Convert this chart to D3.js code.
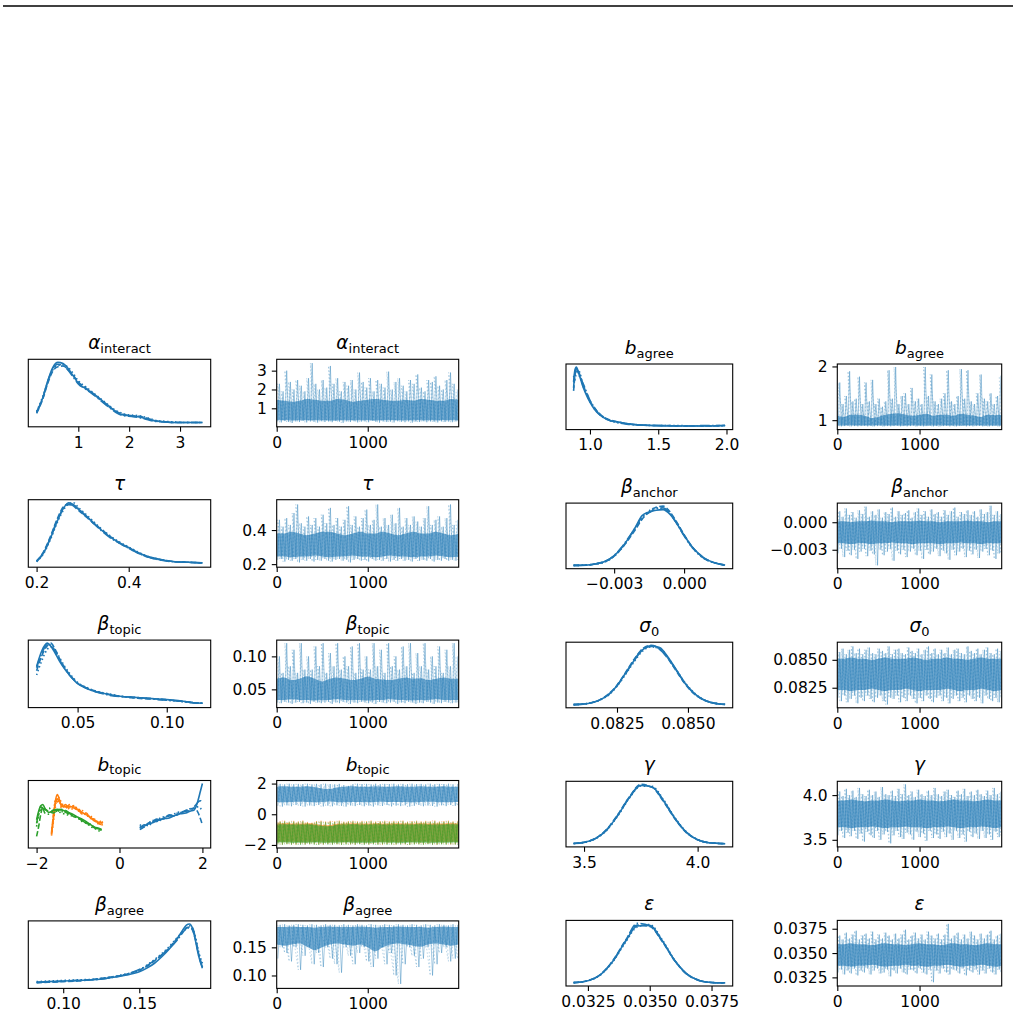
<!DOCTYPE html>
<html><head><meta charset="utf-8">
<script src="https://cdn.jsdelivr.net/npm/d3@7"></script>
<style>body{margin:0;background:#fff} svg{display:block} text{font-family:"DejaVu Sans",sans-serif}</style>
</head><body><svg id="chart" width="1020" height="1019"></svg>
<script>
// ---------------- DATA ----------------
const C0 = "#1f77b4", C1 = "#ff7f0e", C2 = "#2ca02c";

// alpha_interact
const alphaX = [0.18,0.3,0.4,0.5,0.6,0.7,0.8,0.9,1.0,1.15,1.3,1.45,1.6,1.75,1.9,2.05,2.2,2.35,2.5,2.7,2.9,3.1,3.3,3.44];
const alphaK = [
 [0.19,0.42,0.70,0.92,1.00,0.98,0.90,0.78,0.66,0.57,0.49,0.39,0.29,0.19,0.14,0.13,0.11,0.08,0.05,0.03,0.02,0.02,0.02,0.02],
 [0.17,0.40,0.66,0.86,0.93,0.94,0.88,0.79,0.68,0.58,0.48,0.38,0.28,0.20,0.15,0.13,0.12,0.09,0.05,0.03,0.02,0.02,0.02,0.02],
 [0.20,0.44,0.68,0.88,0.95,0.96,0.92,0.82,0.70,0.60,0.50,0.40,0.30,0.21,0.16,0.14,0.13,0.10,0.06,0.04,0.03,0.02,0.02,0.02],
 [0.18,0.41,0.69,0.90,0.97,0.95,0.87,0.76,0.65,0.56,0.47,0.37,0.27,0.18,0.13,0.12,0.10,0.07,0.04,0.03,0.02,0.02,0.02,0.02]];
const alphaBandLo = [0.36,0.36,0.35,0.36,0.37,0.36,0.36,0.35,0.35,0.36,0.37,0.36,0.36,0.35,0.36,0.36,0.37,0.36,0.35,0.36,0.36,0.35,0.36,0.37,0.36];
const alphaBandHi = [1.45,1.4,1.35,1.4,1.5,1.45,1.4,1.4,1.5,1.45,1.35,1.4,1.45,1.5,1.45,1.4,1.4,1.45,1.4,1.5,1.45,1.4,1.4,1.5,1.45];
const alphaHi = [2.3,1.9,3.0,2.4,2.0,2.5,2.2,1.9,2.6,3.4,2.3,2.0,2.5,2.1,3.25,2.3,2.6,1.9,2.4,2.2,2.5,2.0,2.9,2.4,2.1,2.6,1.9,2.5,2.3,2.1,2.95,2.0,2.4,2.6,2.2,1.9,2.5,2.3,2.8,2.1,1.9,2.5,2.4,2.7,2.2,2.0,2.5,2.9,2.3,2.0];
const alphaLo = [0.3,0.25,0.32,0.28,0.22,0.3,0.27,0.33,0.25,0.3,0.28,0.24,0.31,0.27,0.3,0.26,0.32,0.29,0.23,0.3,0.27,0.31,0.25,0.29,0.3,0.26,0.33,0.28,0.24,0.3,0.27,0.29,0.25,0.31,0.28,0.26,0.3,0.24,0.29,0.27,0.31,0.26,0.3,0.28,0.25,0.3,0.27,0.29,0.26,0.3];

// tau
const tauX = [0.20,0.215,0.23,0.245,0.26,0.27,0.28,0.29,0.30,0.32,0.34,0.36,0.38,0.40,0.42,0.44,0.46,0.48,0.50,0.53,0.56];
const tauK = [
 [0.04,0.18,0.42,0.70,0.93,1.00,0.97,0.90,0.84,0.70,0.56,0.44,0.35,0.27,0.19,0.13,0.09,0.06,0.04,0.03,0.02],
 [0.05,0.20,0.45,0.74,0.95,0.98,0.95,0.88,0.82,0.69,0.57,0.45,0.34,0.26,0.18,0.12,0.08,0.06,0.04,0.03,0.02],
 [0.04,0.17,0.40,0.68,0.90,0.99,1.00,0.93,0.86,0.72,0.58,0.46,0.36,0.28,0.20,0.13,0.09,0.06,0.04,0.03,0.02],
 [0.05,0.19,0.43,0.72,0.92,0.97,0.96,0.91,0.83,0.69,0.55,0.43,0.34,0.26,0.18,0.12,0.08,0.05,0.04,0.03,0.02]];
const tauBandLo = [0.245,0.245,0.24,0.245,0.245,0.25,0.245,0.24,0.245,0.245,0.25,0.245,0.245,0.24,0.245,0.25,0.245,0.245,0.24,0.245,0.245,0.25,0.245,0.24,0.245];
const tauBandHi = [0.38,0.38,0.39,0.38,0.37,0.38,0.39,0.39,0.38,0.37,0.38,0.39,0.38,0.38,0.39,0.38,0.37,0.38,0.39,0.38,0.38,0.39,0.38,0.37,0.38];
const tauHi = [0.46,0.42,0.47,0.43,0.50,0.55,0.44,0.42,0.48,0.43,0.47,0.42,0.49,0.44,0.53,0.43,0.47,0.42,0.46,0.54,0.43,0.48,0.42,0.47,0.52,0.43,0.46,0.55,0.42,0.47,0.43,0.49,0.44,0.53,0.42,0.47,0.43,0.48,0.45,0.42,0.47,0.54,0.43,0.46,0.48,0.42,0.47,0.55,0.43,0.46];
const tauLo = [0.225,0.23,0.215,0.225,0.22,0.23,0.21,0.225,0.22,0.23,0.215,0.225,0.22,0.23,0.22,0.215,0.225,0.23,0.22,0.225,0.21,0.225,0.23,0.22,0.225,0.215,0.23,0.22,0.225,0.22,0.23,0.215,0.225,0.22,0.23,0.22,0.225,0.215,0.23,0.22,0.225,0.22,0.23,0.215,0.225,0.22,0.23,0.22,0.225,0.22];

// beta_topic
const btX = [0.027,0.030,0.033,0.035,0.037,0.040,0.043,0.046,0.050,0.055,0.060,0.065,0.070,0.075,0.080,0.085,0.090,0.095,0.100,0.105,0.110,0.115,0.120];
const btK = [
 [0.62,0.88,1.00,0.95,0.86,0.70,0.57,0.46,0.34,0.26,0.21,0.18,0.15,0.13,0.12,0.11,0.10,0.09,0.08,0.07,0.05,0.03,0.02],
 [0.55,0.80,0.96,1.00,0.92,0.74,0.59,0.47,0.35,0.27,0.22,0.18,0.15,0.13,0.11,0.10,0.09,0.09,0.08,0.06,0.05,0.03,0.02],
 [0.48,0.72,0.90,0.94,0.90,0.76,0.61,0.49,0.36,0.28,0.22,0.19,0.16,0.13,0.12,0.11,0.10,0.09,0.07,0.06,0.04,0.03,0.02],
 [0.60,0.84,0.98,0.97,0.88,0.72,0.58,0.46,0.35,0.27,0.21,0.17,0.14,0.13,0.12,0.11,0.10,0.08,0.07,0.06,0.05,0.03,0.02]];
const btBandLo = [0.034,0.034,0.035,0.034,0.034,0.033,0.034,0.034,0.035,0.034,0.034,0.034,0.033,0.034,0.034,0.035,0.034,0.034,0.033,0.034,0.034,0.035,0.034,0.034,0.034];
const btBandHi = [0.066,0.068,0.064,0.066,0.07,0.066,0.062,0.066,0.068,0.066,0.064,0.066,0.069,0.066,0.065,0.064,0.066,0.068,0.066,0.067,0.064,0.066,0.068,0.066,0.066];
const btHi = [0.10,0.075,0.12,0.085,0.11,0.075,0.12,0.08,0.10,0.08,0.115,0.085,0.12,0.075,0.105,0.085,0.12,0.08,0.10,0.085,0.115,0.075,0.12,0.08,0.10,0.08,0.12,0.085,0.11,0.075,0.12,0.085,0.10,0.08,0.115,0.085,0.12,0.075,0.105,0.085,0.12,0.08,0.10,0.085,0.115,0.075,0.11,0.085,0.12,0.10];
const btLo = [0.03,0.029,0.031,0.03,0.028,0.03,0.031,0.029,0.03,0.028,0.031,0.03,0.029,0.03,0.031,0.028,0.03,0.029,0.031,0.03,0.028,0.03,0.029,0.031,0.03,0.029,0.03,0.028,0.031,0.03,0.029,0.03,0.031,0.028,0.03,0.029,0.031,0.03,0.028,0.03,0.029,0.031,0.03,0.028,0.03,0.029,0.031,0.03,0.029,0.03];

// b_topic (three components)
const bt0X = [0.49,0.6,0.7,0.8,0.9,1.0,1.1,1.2,1.3,1.4,1.5,1.6,1.7,1.8,1.85,1.9,1.95,2.0];
const bt0K = [
 [0.29,0.31,0.34,0.36,0.39,0.42,0.43,0.44,0.47,0.50,0.51,0.52,0.55,0.57,0.63,0.74,0.87,1.00],
 [0.25,0.30,0.36,0.38,0.40,0.41,0.45,0.47,0.48,0.49,0.53,0.56,0.58,0.60,0.58,0.52,0.43,0.33],
 [0.33,0.29,0.35,0.40,0.38,0.45,0.46,0.48,0.50,0.53,0.54,0.56,0.59,0.60,0.62,0.62,0.60,0.55],
 [0.27,0.33,0.31,0.38,0.42,0.40,0.44,0.49,0.47,0.52,0.53,0.55,0.56,0.62,0.66,0.70,0.72,0.70]];
const bt1X = [-1.64,-1.6,-1.55,-1.5,-1.45,-1.4,-1.3,-1.2,-1.1,-1.0,-0.9,-0.8,-0.7,-0.6,-0.5,-0.4];
const bt1K = [
 [0.17,0.40,0.70,0.82,0.74,0.63,0.62,0.63,0.60,0.57,0.53,0.49,0.45,0.39,0.37,0.36],
 [0.20,0.45,0.66,0.75,0.70,0.66,0.60,0.66,0.62,0.60,0.52,0.52,0.43,0.42,0.35,0.33],
 [0.15,0.35,0.60,0.78,0.77,0.68,0.64,0.61,0.64,0.55,0.56,0.47,0.47,0.38,0.40,0.30],
 [0.18,0.42,0.72,0.70,0.72,0.60,0.66,0.58,0.59,0.58,0.50,0.50,0.44,0.41,0.34,0.38]];
const bt2X = [-2.0,-1.95,-1.9,-1.85,-1.8,-1.7,-1.6,-1.5,-1.4,-1.3,-1.2,-1.1,-1.0,-0.9,-0.8,-0.7,-0.6,-0.5,-0.43];
const bt2K = [
 [0.41,0.55,0.64,0.66,0.60,0.53,0.56,0.58,0.57,0.55,0.52,0.49,0.45,0.42,0.38,0.33,0.29,0.27,0.25],
 [0.14,0.30,0.50,0.62,0.58,0.55,0.52,0.56,0.58,0.53,0.50,0.46,0.44,0.40,0.36,0.32,0.28,0.26,0.24],
 [0.30,0.48,0.57,0.59,0.55,0.60,0.54,0.55,0.52,0.50,0.48,0.47,0.44,0.38,0.36,0.30,0.27,0.23,0.22],
 [0.35,0.52,0.62,0.60,0.52,0.50,0.57,0.56,0.54,0.56,0.51,0.47,0.43,0.40,0.35,0.34,0.28,0.26,0.24]];
const bt0BandLo = [0.8,0.78,0.8,0.82,0.8,0.78,0.8,0.83,0.8,0.78,0.8,0.8,0.78,0.8,0.82,0.8,0.8,0.8,0.78,0.8,0.82,0.8,0.78,0.8,0.8];
const bt0BandHi = [1.8,1.82,1.8,1.8,1.82,1.78,1.68,1.64,1.76,1.8,1.82,1.8,1.8,1.82,1.8,1.8,1.82,1.8,1.8,1.82,1.8,1.8,1.82,1.8,1.8];
const bt0Hi = [1.98,1.95,1.99,1.96,1.98,1.97,1.99,1.95,1.98,1.96,1.99,1.97,1.95,1.98,1.9,1.85,1.96,1.99,1.97,1.98,1.95,1.99,1.96,1.98,1.97,1.99,1.95,1.98,1.96,1.99,1.97,1.98,1.95,1.99,1.96,1.98,1.97,1.99,1.95,1.98];
const bt0Lo = [0.55,0.5,0.58,0.52,0.6,0.54,0.5,0.57,0.53,0.6,0.51,0.56,0.52,0.58,0.55,0.5,0.57,0.53,0.6,0.52,0.56,0.5,0.58,0.54,0.6,0.51,0.56,0.53,0.58,0.5,0.55,0.6,0.52,0.57,0.54,0.5,0.58,0.53,0.6,0.55];
const bt1BandLo = [-1.8,-1.79,-1.8,-1.81,-1.8,-1.79,-1.8,-1.81,-1.8,-1.79,-1.8,-1.8,-1.81,-1.8,-1.79,-1.8,-1.81,-1.8,-1.79,-1.8,-1.8,-1.81,-1.8,-1.79,-1.8];
const bt1BandHi = [-0.6,-0.59,-0.6,-0.61,-0.59,-0.62,-0.7,-0.72,-0.62,-0.6,-0.59,-0.6,-0.61,-0.59,-0.6,-0.6,-0.59,-0.61,-0.6,-0.59,-0.6,-0.61,-0.6,-0.59,-0.6];
const bt1Hi = [-0.45,-0.42,-0.48,-0.43,-0.46,-0.41,-0.5,-0.55,-0.44,-0.42,-0.47,-0.43,-0.45,-0.41,-0.48,-0.44,-0.42,-0.46,-0.43,-0.45,-0.41,-0.47,-0.44,-0.42,-0.46,-0.43,-0.45,-0.41,-0.48,-0.44,-0.42,-0.46,-0.43,-0.45,-0.41,-0.47,-0.44,-0.42,-0.46,-0.43];
const bt1Lo = [-1.95,-1.97,-1.93,-1.96,-1.98,-1.94,-1.97,-1.95,-1.93,-1.96,-1.98,-1.94,-1.96,-1.95,-1.97,-1.93,-1.96,-1.98,-1.94,-1.95,-1.97,-1.93,-1.96,-1.98,-1.94,-1.95,-1.97,-1.93,-1.96,-1.98,-1.94,-1.95,-1.97,-1.93,-1.96,-1.98,-1.94,-1.95,-1.97,-1.96];
const bt2BandLo = [-1.85,-1.84,-1.85,-1.86,-1.85,-1.84,-1.85,-1.86,-1.85,-1.84,-1.85,-1.85,-1.86,-1.85,-1.84,-1.85,-1.86,-1.85,-1.84,-1.85,-1.85,-1.86,-1.85,-1.84,-1.85];
const bt2BandHi = [-0.66,-0.65,-0.66,-0.67,-0.65,-0.68,-0.76,-0.78,-0.68,-0.66,-0.65,-0.66,-0.67,-0.65,-0.66,-0.66,-0.65,-0.67,-0.66,-0.65,-0.66,-0.67,-0.66,-0.65,-0.66];
const bt2Hi = [-0.5,-0.48,-0.53,-0.49,-0.52,-0.47,-0.56,-0.6,-0.5,-0.48,-0.52,-0.49,-0.51,-0.47,-0.53,-0.5,-0.48,-0.52,-0.49,-0.51,-0.47,-0.53,-0.5,-0.48,-0.52,-0.49,-0.51,-0.47,-0.53,-0.5,-0.48,-0.52,-0.49,-0.51,-0.47,-0.53,-0.5,-0.48,-0.52,-0.49];
const bt2Lo = [-1.98,-2.0,-1.96,-1.99,-1.97,-2.0,-1.98,-1.96,-1.99,-2.0,-1.97,-1.98,-1.99,-1.96,-2.0,-1.98,-1.97,-1.99,-1.96,-2.0,-1.98,-1.97,-1.99,-1.96,-2.0,-1.98,-1.97,-1.99,-1.96,-2.0,-1.98,-1.97,-1.99,-1.96,-2.0,-1.98,-1.97,-1.99,-1.96,-1.98];

// beta_agree
const baX = [0.0825,0.09,0.10,0.11,0.12,0.13,0.14,0.15,0.155,0.16,0.165,0.17,0.175,0.178,0.181,0.183,0.185,0.187,0.189,0.1915];
const baK = [
 [0.05,0.06,0.07,0.08,0.09,0.12,0.16,0.22,0.28,0.36,0.47,0.60,0.76,0.88,0.98,1.00,0.93,0.72,0.48,0.28],
 [0.04,0.05,0.06,0.07,0.10,0.13,0.17,0.25,0.31,0.40,0.50,0.62,0.77,0.86,0.94,0.95,0.90,0.74,0.52,0.30],
 [0.06,0.07,0.08,0.09,0.10,0.13,0.18,0.24,0.33,0.42,0.52,0.64,0.78,0.86,0.92,0.94,0.92,0.78,0.55,0.36],
 [0.05,0.05,0.07,0.08,0.09,0.12,0.17,0.26,0.32,0.41,0.50,0.61,0.74,0.84,0.93,0.97,0.94,0.76,0.50,0.30]];
const baBandLo = [0.155,0.153,0.155,0.157,0.151,0.145,0.15,0.155,0.157,0.155,0.153,0.155,0.15,0.143,0.15,0.155,0.157,0.155,0.153,0.151,0.155,0.157,0.155,0.153,0.155];
const baBandHi = [0.186,0.186,0.187,0.186,0.186,0.185,0.186,0.187,0.186,0.186,0.186,0.187,0.186,0.185,0.186,0.186,0.187,0.186,0.186,0.186,0.185,0.186,0.187,0.186,0.186];
const baHi = [0.190,0.191,0.189,0.190,0.191,0.190,0.189,0.191,0.190,0.189,0.191,0.190,0.190,0.189,0.191,0.190,0.189,0.191,0.190,0.189,0.191,0.190,0.189,0.191,0.190,0.189,0.191,0.190,0.189,0.191,0.190,0.189,0.191,0.190,0.189,0.191,0.190,0.189,0.191,0.190];
const baLo = [0.13,0.15,0.14,0.125,0.15,0.11,0.135,0.15,0.12,0.14,0.115,0.15,0.13,0.12,0.105,0.15,0.135,0.12,0.14,0.15,0.125,0.115,0.13,0.15,0.12,0.14,0.1,0.085,0.12,0.15,0.135,0.115,0.13,0.15,0.1,0.12,0.14,0.15,0.125,0.13,0.115,0.14,0.15,0.11,0.125,0.13,0.15,0.12,0.09,0.12];

// b_agree
const bagX = [0.88,0.89,0.90,0.92,0.95,0.98,1.0,1.03,1.06,1.1,1.15,1.2,1.27,1.35,1.45,1.55,1.65,1.75,1.85,1.99];
const bagK = [
 [0.75,0.95,1.00,0.88,0.66,0.50,0.41,0.30,0.22,0.15,0.10,0.08,0.05,0.03,0.02,0.01,0.01,0.01,0.01,0.02],
 [0.60,0.85,0.96,0.90,0.70,0.53,0.43,0.32,0.24,0.16,0.11,0.08,0.05,0.03,0.02,0.02,0.01,0.01,0.01,0.02],
 [0.85,0.78,0.92,0.93,0.68,0.52,0.42,0.31,0.23,0.16,0.10,0.07,0.05,0.03,0.02,0.02,0.02,0.01,0.01,0.01],
 [0.65,0.90,0.98,0.86,0.72,0.55,0.44,0.33,0.23,0.15,0.10,0.07,0.04,0.03,0.02,0.02,0.01,0.01,0.02,0.02]];
const bagBandLo = [0.9,0.9,0.905,0.9,0.9,0.9,0.905,0.9,0.9,0.9,0.9,0.905,0.9,0.9,0.9,0.905,0.9,0.9,0.9,0.9,0.905,0.9,0.9,0.9,0.9];
const bagBandHi = [1.08,1.06,1.1,1.1,1.08,1.04,1.06,1.1,1.12,1.13,1.1,1.08,1.1,1.12,1.08,1.1,1.1,1.08,1.12,1.1,1.08,1.06,1.1,1.09,1.1];
const bagHi = [1.7,1.3,1.45,1.91,1.35,1.4,1.81,1.3,1.7,1.35,1.75,1.3,1.4,1.25,1.35,1.93,1.4,1.99,1.3,1.45,1.5,1.3,1.6,1.35,1.4,1.3,1.99,1.45,1.85,1.35,1.3,1.4,1.5,1.93,1.35,1.3,1.45,1.95,1.4,1.93,1.35,1.3,1.5,1.85,1.4,1.35,1.5,1.3,1.45,1.83];
const bagLo = [0.89,0.885,0.89,0.895,0.885,0.89,0.885,0.89,0.895,0.885,0.89,0.885,0.89,0.895,0.885,0.89,0.885,0.89,0.895,0.885,0.89,0.885,0.89,0.895,0.885,0.89,0.885,0.89,0.895,0.885,0.89,0.885,0.89,0.895,0.885,0.89,0.885,0.89,0.895,0.885,0.89,0.885,0.89,0.895,0.885,0.89,0.885,0.89,0.895,0.885];

// beta_anchor
const banX = [-0.00474,-0.0042,-0.0038,-0.0034,-0.0030,-0.0027,-0.0024,-0.0021,-0.0018,-0.0015,-0.0012,-0.0009,-0.0006,-0.0003,0.0,0.0003,0.0006,0.0009,0.0013,0.00176];
const banK = [
 [0.005,0.01,0.03,0.07,0.17,0.29,0.45,0.64,0.84,0.90,0.93,0.94,0.86,0.70,0.51,0.34,0.21,0.12,0.05,0.01],
 [0.005,0.01,0.03,0.07,0.16,0.28,0.43,0.60,0.78,0.90,0.98,1.00,0.90,0.72,0.52,0.34,0.21,0.12,0.05,0.01],
 [0.005,0.01,0.03,0.06,0.16,0.28,0.44,0.62,0.80,0.92,0.97,0.96,0.88,0.71,0.51,0.33,0.20,0.11,0.05,0.01],
 [0.005,0.01,0.03,0.07,0.17,0.30,0.46,0.63,0.82,0.89,0.95,0.97,0.87,0.70,0.50,0.33,0.20,0.11,0.05,0.01]];
const banBandLo = [-0.0023,-0.0023,-0.0024,-0.0023,-0.0023,-0.0024,-0.0023,-0.0023,-0.0022,-0.0023,-0.0023,-0.0024,-0.0023,-0.0023,-0.0023,-0.0024,-0.0023,-0.0023,-0.0022,-0.0023,-0.0023,-0.0024,-0.0023,-0.0023,-0.0023];
const banBandHi = [0.0001,0.0001,0.0000,0.0001,0.0001,0.0002,0.0001,0.0001,0.0000,0.0001,0.0001,0.0001,0.0002,0.0001,0.0001,0.0000,0.0001,0.0001,0.0001,0.0002,0.0001,0.0001,0.0000,0.0001,0.0001];
const banHi = [0.0012,0.0006,0.0015,0.0008,0.0011,0.0005,0.0013,0.0009,0.0017,0.0006,0.0012,0.0008,0.0014,0.0005,0.0011,0.0009,0.0016,0.0006,0.0012,0.0008,0.0010,0.0013,0.0005,0.0011,0.0015,0.0008,0.0012,0.0006,0.0014,0.0009,0.0011,0.0006,0.0013,0.0008,0.0012,0.0016,0.0006,0.0011,0.0009,0.0013,0.0008,0.0012,0.0006,0.0014,0.0009,0.0011,0.0018,0.0008,0.0012,0.0009];
const banLo = [-0.0034,-0.0029,-0.0038,-0.0031,-0.0036,-0.0030,-0.0040,-0.0032,-0.0029,-0.0037,-0.0031,-0.0035,-0.0047,-0.0030,-0.0036,-0.0032,-0.0029,-0.0042,-0.0031,-0.0035,-0.0030,-0.0038,-0.0032,-0.0029,-0.0036,-0.0031,-0.0040,-0.0030,-0.0035,-0.0032,-0.0029,-0.0037,-0.0031,-0.0034,-0.0041,-0.0030,-0.0036,-0.0032,-0.0029,-0.0038,-0.0031,-0.0035,-0.0030,-0.0039,-0.0032,-0.0029,-0.0036,-0.0031,-0.0040,-0.0034];

// sigma_0
const sgX = [0.08097,0.0813,0.0816,0.0819,0.0822,0.0825,0.0828,0.0831,0.0834,0.0837,0.0840,0.0843,0.0846,0.0849,0.0852,0.0855,0.0858,0.0861,0.08631];
const sgK = [
 [0.003,0.012,0.034,0.083,0.17,0.32,0.53,0.74,0.92,0.99,0.96,0.80,0.58,0.36,0.20,0.097,0.041,0.015,0.007],
 [0.003,0.013,0.036,0.086,0.18,0.33,0.54,0.76,0.94,1.00,0.94,0.77,0.56,0.35,0.19,0.095,0.040,0.015,0.007],
 [0.003,0.011,0.032,0.080,0.16,0.31,0.51,0.72,0.90,0.97,0.95,0.79,0.58,0.37,0.21,0.10,0.043,0.016,0.008],
 [0.003,0.012,0.035,0.084,0.17,0.32,0.52,0.75,0.93,0.98,0.93,0.78,0.57,0.36,0.20,0.096,0.041,0.015,0.007]];
const sgBandLo = [0.0823,0.0823,0.0822,0.0823,0.0823,0.0824,0.0823,0.0822,0.0823,0.0823,0.0824,0.0823,0.0822,0.0823,0.0823,0.0823,0.0824,0.0823,0.0822,0.0823,0.0823,0.0824,0.0823,0.0822,0.0823];
const sgBandHi = [0.0851,0.0851,0.0852,0.0851,0.0851,0.0850,0.0851,0.0852,0.0851,0.0851,0.0851,0.0852,0.0851,0.0850,0.0851,0.0851,0.0852,0.0851,0.0851,0.0850,0.0851,0.0852,0.0851,0.0851,0.0851];
const sgHi = [0.0857,0.0860,0.0855,0.0859,0.0862,0.0856,0.0860,0.0855,0.0859,0.0861,0.0856,0.0855,0.0860,0.0858,0.0856,0.0862,0.0855,0.0859,0.0860,0.0856,0.0855,0.0861,0.0858,0.0856,0.0860,0.0855,0.0859,0.0862,0.0856,0.0860,0.0855,0.0859,0.0856,0.0861,0.0855,0.0859,0.0860,0.0856,0.0855,0.0862,0.0858,0.0856,0.0860,0.0855,0.0859,0.0861,0.0856,0.0855,0.0860,0.0858];
const sgLo = [0.0816,0.0813,0.0818,0.0812,0.0815,0.0818,0.0811,0.0816,0.0813,0.0818,0.0815,0.0812,0.0816,0.0818,0.0813,0.0810,0.0816,0.0815,0.0818,0.0812,0.0816,0.0813,0.0818,0.0815,0.0811,0.0816,0.0813,0.0818,0.0815,0.0812,0.0816,0.0818,0.0813,0.0816,0.0811,0.0815,0.0818,0.0813,0.0816,0.0812,0.0818,0.0815,0.0813,0.0816,0.0811,0.0818,0.0815,0.0813,0.0816,0.0812];

// gamma
const gmX = [3.454,3.5,3.55,3.6,3.65,3.7,3.75,3.8,3.85,3.9,3.95,4.0,4.05,4.121];
const gmK = [
 [0.007,0.026,0.089,0.236,0.487,0.78,0.98,0.956,0.726,0.43,0.198,0.071,0.02,0.004],
 [0.007,0.028,0.092,0.245,0.50,0.79,1.00,0.95,0.71,0.42,0.19,0.068,0.02,0.004],
 [0.006,0.024,0.085,0.228,0.475,0.77,0.97,0.965,0.74,0.44,0.205,0.074,0.021,0.004],
 [0.007,0.026,0.090,0.240,0.49,0.785,0.985,0.95,0.72,0.425,0.195,0.07,0.02,0.004]];
const gmBandLo = [3.64,3.64,3.63,3.64,3.64,3.65,3.64,3.63,3.64,3.64,3.65,3.64,3.64,3.63,3.64,3.64,3.65,3.64,3.63,3.64,3.64,3.65,3.64,3.63,3.64];
const gmBandHi = [3.94,3.94,3.95,3.94,3.93,3.94,3.94,3.95,3.94,3.93,3.94,3.94,3.95,3.94,3.94,3.93,3.94,3.95,3.94,3.94,3.93,3.94,3.95,3.94,3.94];
const gmHi = [4.04,3.99,4.07,4.0,4.05,3.98,4.08,4.01,3.99,4.06,4.0,4.04,3.98,4.09,4.01,4.0,4.05,3.99,4.07,4.01,4.12,4.0,4.04,3.98,4.06,4.01,3.99,4.05,4.0,4.08,4.01,3.99,4.04,4.06,4.0,3.98,4.05,4.01,4.07,3.99,4.04,4.0,4.06,4.01,3.99,4.05,4.0,4.08,4.01,4.04];
const gmLo = [3.55,3.6,3.52,3.58,3.54,3.6,3.51,3.57,3.48,3.59,3.55,3.52,3.6,3.5,3.56,3.59,3.46,3.55,3.6,3.53,3.51,3.58,3.56,3.5,3.59,3.53,3.57,3.49,3.6,3.52,3.56,3.51,3.59,3.53,3.57,3.5,3.6,3.52,3.56,3.48,3.59,3.53,3.57,3.51,3.6,3.52,3.56,3.5,3.59,3.53];

// epsilon
const epX = [0.03192,0.0325,0.0330,0.0335,0.0340,0.0345,0.0350,0.0355,0.0360,0.0365,0.0370,0.0375,0.03805];
const epK = [
 [0.006,0.039,0.138,0.36,0.685,0.956,0.967,0.715,0.386,0.152,0.044,0.009,0.002],
 [0.006,0.040,0.142,0.37,0.70,0.97,0.95,0.70,0.38,0.148,0.043,0.009,0.002],
 [0.005,0.037,0.134,0.35,0.67,0.94,0.98,0.73,0.39,0.155,0.045,0.010,0.002],
 [0.006,0.039,0.140,0.365,0.69,1.00,0.96,0.71,0.38,0.150,0.044,0.009,0.002]];
const epBandLo = [0.0337,0.0337,0.0336,0.0337,0.0337,0.0338,0.0337,0.0336,0.0337,0.0337,0.0338,0.0337,0.0337,0.0336,0.0337,0.0337,0.0338,0.0337,0.0336,0.0337,0.0337,0.0338,0.0337,0.0336,0.0337];
const epBandHi = [0.0359,0.0359,0.0360,0.0359,0.0359,0.0358,0.0359,0.0360,0.0359,0.0359,0.0358,0.0359,0.0360,0.0359,0.0359,0.0358,0.0359,0.0360,0.0359,0.0359,0.0358,0.0359,0.0360,0.0359,0.0359];
const epHi = [0.0368,0.0364,0.0371,0.0365,0.0369,0.0373,0.0364,0.0368,0.0370,0.0365,0.0372,0.0364,0.0369,0.0365,0.0371,0.0368,0.0364,0.0370,0.0365,0.0369,0.0374,0.0364,0.0368,0.0371,0.0365,0.0369,0.0364,0.0372,0.0368,0.0365,0.0370,0.0364,0.0369,0.0380,0.0365,0.0368,0.0371,0.0364,0.0369,0.0365,0.0372,0.0368,0.0364,0.0370,0.0365,0.0369,0.0373,0.0364,0.0368,0.0370];
const epLo = [0.0330,0.0333,0.0328,0.0332,0.0329,0.0334,0.0327,0.0332,0.0330,0.0334,0.0328,0.0332,0.0334,0.0329,0.0330,0.0333,0.0326,0.0332,0.0329,0.0334,0.0330,0.0328,0.0333,0.0332,0.0329,0.0334,0.0330,0.0328,0.0333,0.0320,0.0332,0.0329,0.0334,0.0330,0.0328,0.0333,0.0332,0.0329,0.0334,0.0327,0.0332,0.0330,0.0333,0.0328,0.0332,0.0329,0.0334,0.0330,0.0328,0.0333];

// tick labels
const traceXTicks = [0, 1000];
const alphaTicks = [1, 2, 3];
const tauTicks = [0.2, 0.4];
const btTicks = [0.05, 0.10];
const btopicTicks = [-2, 0, 2];
const baTicks = [0.10, 0.15];
const bagKdeTicks = [1.0, 1.5, 2.0];
const bagTraceTicks = [1, 2];
const banTicks = [-0.003, 0.000];
const sgTicks = [0.0825, 0.0850];
const gmTicks = [3.5, 4.0];
const epTicks = [0.0325, 0.0350, 0.0375];

// ---------------- DRAWING ----------------
const svg = d3.select("#chart");
svg.append("rect").attr("width", 1020).attr("height", 1019).attr("fill", "#fff");
svg.append("line").attr("x1", 3).attr("x2", 1013).attr("y1", 6).attr("y2", 6)
  .attr("stroke", "#000").attr("stroke-width", 1.5);

const DASH = [null, "5.5,2.4", "1.5,2.5", "9.6,2.4,1.5,2.4"];
const FS = 15.5;
let clipId = 0;

function frame(g, x0, x1, y0, y1) {
  g.append("rect").attr("x", x0).attr("y", y0).attr("width", x1 - x0).attr("height", y1 - y0)
    .attr("fill", "none").attr("stroke", "#000").attr("stroke-width", 1.1);
}
function clip(x0, x1, y0, y1) {
  const id = "c" + (clipId++);
  svg.append("clipPath").attr("id", id).append("rect")
    .attr("x", x0).attr("y", y0).attr("width", x1 - x0).attr("height", y1 - y0);
  return "url(#" + id + ")";
}
function styleAxis(a) {
  a.select(".domain").remove();
  a.attr("font-family", "DejaVu Sans").attr("font-size", FS);
  a.selectAll("line").attr("stroke", "#000").attr("stroke-width", 1.1);
  a.selectAll("text").attr("fill", "#000");
}
function title(cx, top, main, sub) {
  const t = svg.append("text").attr("x", cx).attr("y", top - 10).attr("text-anchor", "middle")
    .attr("font-size", 18.5).attr("fill", "#000");
  t.append("tspan").attr("font-style", "italic").text(main);
  if (sub) t.append("tspan").attr("font-size", 13).attr("dy", 3.8).text(sub);
}
function pad(ext) { const r = ext[1] - ext[0]; return [ext[0] - 0.05 * r, ext[1] + 0.05 * r]; }

function kdePanel(x0, x1, y0, y1, series, ticks, fmt) {
  const allX = series.flatMap(s => s.xs);
  const M = d3.max(series.flatMap(s => s.ks.flat()));
  const x = d3.scaleLinear().domain(pad(d3.extent(allX))).range([x0, x1]);
  const y = d3.scaleLinear().domain([-0.05 * M, 1.05 * M]).range([y1, y0]);
  const g = svg.append("g").attr("clip-path", clip(x0, x1, y0, y1));
  series.forEach(s => {
    s.ks.forEach((k, c) => {
      const line = d3.line().x((d, i) => x(s.xs[i])).y(d => y(d)).curve(d3.curveMonotoneX);
      g.append("path").attr("d", line(k)).attr("fill", "none").attr("stroke", s.color)
        .attr("stroke-width", 1.6).attr("stroke-dasharray", DASH[c]);
    });
  });
  frame(svg, x0, x1, y0, y1);
  const ax = svg.append("g").attr("transform", `translate(0,${y1})`)
    .call(d3.axisBottom(x).tickValues(ticks).tickFormat(d3.format(fmt)).tickSize(4.9).tickPadding(4.9));
  styleAxis(ax);
  return allX;
}

function tracePanel(x0, x1, y0, y1, ext, series, ticks, fmt) {
  const x = d3.scaleLinear().domain([0, 1999]).range([x0, x1]);
  const y = d3.scaleLinear().domain(pad(ext)).range([y1, y0]);
  const g = svg.append("g").attr("clip-path", clip(x0, x1, y0, y1));
  series.forEach(s => {
    // dense core of the chains
    const n = s.bandLo.length;
    const area = d3.area().x((d, i) => x(i * 1999 / (n - 1))).y0((d, i) => y(s.bandLo[i])).y1(d => y(d))
      .curve(d3.curveMonotoneX);
    g.append("path").attr("d", area(s.bandHi)).attr("fill", s.color).attr("fill-opacity", 0.62);
    // zig-zag of the chain excursions (spike bottoms and tops)
    const m = s.hi.length, step = 1999 / m;
    const pts = [];
    s.hi.forEach((v, i) => {
      pts.push([x(i * step + step * 0.25), y(s.lo[i])]);
      pts.push([x(i * step + step * 0.75), y(v)]);
    });
    g.append("path").attr("d", d3.line()(pts)).attr("fill", "none").attr("stroke", s.color)
      .attr("stroke-opacity", 0.4).attr("stroke-width", 1);
    // second pass with the chain dash style, offset by half a step
    const pts2 = [];
    s.hi.forEach((v, i) => {
      pts2.push([x(i * step + step * 0.75), y(s.lo[(i + 1) % m])]);
      pts2.push([x(i * step + step * 0.25), y(v)]);
    });
    g.append("path").attr("d", d3.line()(pts2)).attr("fill", "none").attr("stroke", s.color)
      .attr("stroke-opacity", 0.3).attr("stroke-width", 1).attr("stroke-dasharray", "1.5,2");
  });
  frame(svg, x0, x1, y0, y1);
  const ax = svg.append("g").attr("transform", `translate(0,${y1})`)
    .call(d3.axisBottom(x).tickValues(traceXTicks).tickFormat(d3.format("d")).tickSize(4.9).tickPadding(4.9));
  styleAxis(ax);
  const ay = svg.append("g").attr("transform", `translate(${x0},0)`)
    .call(d3.axisLeft(y).tickValues(ticks).tickFormat(d3.format(fmt)).tickSize(4.9).tickPadding(4.9));
  styleAxis(ay);
}

const L = { kde: [28.3, 210.7], trace: [276.7, 458.7], top: i => 359.3 + 140.4 * i, h: 67.5 };
const R = { kde: [566, 732.7], trace: [837.3, 1001.7], top: i => 364 + 139.1 * i, h: 65.6 };

const rows = [
  { side: L, row: 0, main: "α", sub: "interact", kdeTicks: alphaTicks, kdeFmt: "d", trTicks: alphaTicks, trFmt: "d",
    series: [{ xs: alphaX, ks: alphaK, color: C0, bandLo: alphaBandLo, bandHi: alphaBandHi, hi: alphaHi, lo: alphaLo }] },
  { side: L, row: 1, main: "τ", sub: null, kdeTicks: tauTicks, kdeFmt: ".1f", trTicks: tauTicks, trFmt: ".1f",
    series: [{ xs: tauX, ks: tauK, color: C0, bandLo: tauBandLo, bandHi: tauBandHi, hi: tauHi, lo: tauLo }] },
  { side: L, row: 2, main: "β", sub: "topic", kdeTicks: btTicks, kdeFmt: ".2f", trTicks: btTicks, trFmt: ".2f",
    series: [{ xs: btX, ks: btK, color: C0, bandLo: btBandLo, bandHi: btBandHi, hi: btHi, lo: btLo }] },
  { side: L, row: 3, main: "b", sub: "topic", kdeTicks: btopicTicks, kdeFmt: "d", trTicks: btopicTicks, trFmt: "d",
    series: [
      { xs: bt0X, ks: bt0K, color: C0, bandLo: bt0BandLo, bandHi: bt0BandHi, hi: bt0Hi, lo: bt0Lo },
      { xs: bt1X, ks: bt1K, color: C1, bandLo: bt1BandLo, bandHi: bt1BandHi, hi: bt1Hi, lo: bt1Lo },
      { xs: bt2X, ks: bt2K, color: C2, bandLo: bt2BandLo, bandHi: bt2BandHi, hi: bt2Hi, lo: bt2Lo }] },
  { side: L, row: 4, main: "β", sub: "agree", kdeTicks: baTicks, kdeFmt: ".2f", trTicks: baTicks, trFmt: ".2f",
    series: [{ xs: baX, ks: baK, color: C0, bandLo: baBandLo, bandHi: baBandHi, hi: baHi, lo: baLo }] },
  { side: R, row: 0, main: "b", sub: "agree", kdeTicks: bagKdeTicks, kdeFmt: ".1f", trTicks: bagTraceTicks, trFmt: "d",
    series: [{ xs: bagX, ks: bagK, color: C0, bandLo: bagBandLo, bandHi: bagBandHi, hi: bagHi, lo: bagLo }] },
  { side: R, row: 1, main: "β", sub: "anchor", kdeTicks: banTicks, kdeFmt: ".3f", trTicks: banTicks, trFmt: ".3f",
    series: [{ xs: banX, ks: banK, color: C0, bandLo: banBandLo, bandHi: banBandHi, hi: banHi, lo: banLo }] },
  { side: R, row: 2, main: "σ", sub: "0", kdeTicks: sgTicks, kdeFmt: ".4f", trTicks: sgTicks, trFmt: ".4f",
    series: [{ xs: sgX, ks: sgK, color: C0, bandLo: sgBandLo, bandHi: sgBandHi, hi: sgHi, lo: sgLo }] },
  { side: R, row: 3, main: "γ", sub: null, kdeTicks: gmTicks, kdeFmt: ".1f", trTicks: gmTicks, trFmt: ".1f",
    series: [{ xs: gmX, ks: gmK, color: C0, bandLo: gmBandLo, bandHi: gmBandHi, hi: gmHi, lo: gmLo }] },
  { side: R, row: 4, main: "ε", sub: null, kdeTicks: epTicks, kdeFmt: ".4f", trTicks: epTicks, trFmt: ".4f",
    series: [{ xs: epX, ks: epK, color: C0, bandLo: epBandLo, bandHi: epBandHi, hi: epHi, lo: epLo }] }
];

rows.forEach(r => {
  const S = r.side, top = S.top(r.row), bot = top + S.h;
  const allX = kdePanel(S.kde[0], S.kde[1], top, bot, r.series, r.kdeTicks, r.kdeFmt);
  title((S.kde[0] + S.kde[1]) / 2, top, r.main, r.sub);
  tracePanel(S.trace[0], S.trace[1], top, bot, d3.extent(allX), r.series, r.trTicks, r.trFmt);
  title((S.trace[0] + S.trace[1]) / 2, top, r.main, r.sub);
});
</script></body></html>
